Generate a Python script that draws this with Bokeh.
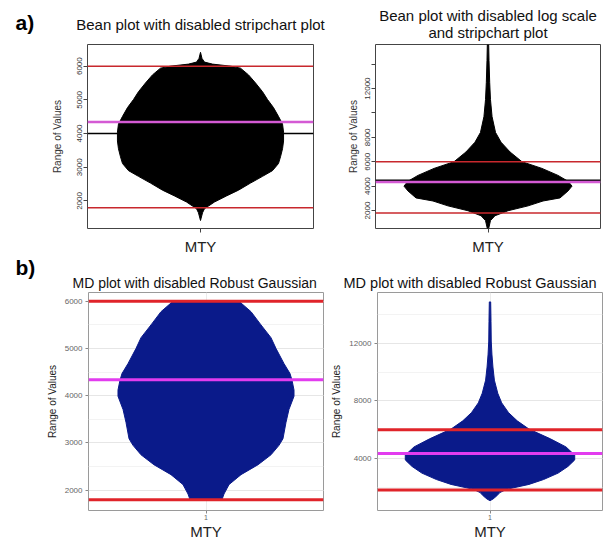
import math
from bokeh.plotting import figure
from bokeh.layouts import column, row
from bokeh.models import Range1d, FixedTicker, SingleIntervalTicker, Span, Title
from bokeh.embed import file_html
from bokeh.resources import INLINE

FONT = "Liberation Sans"

# ---------------- data ----------------
category = "MTY"
upper_limit = 6000
lower_limit = 1800
robust_mean = 4340

# a) left: bean plot (no stripchart)
a1_levels = [6410, 6230, 6120, 6060, 6000, 5940, 5740, 5500, 5240, 5010, 4770, 4510, 4280,
             4040, 3780, 3550, 3310, 3110, 2900, 2730, 2530, 2320, 2150, 1970, 1850, 1770,
             1650, 1420]
a1_halfwidth = [0.0, 0.013, 0.035, 0.106, 0.265, 0.354, 0.425, 0.487, 0.549, 0.593, 0.646,
                0.690, 0.726, 0.735, 0.735, 0.726, 0.708, 0.690, 0.637, 0.549, 0.442, 0.336,
                0.230, 0.124, 0.071, 0.035, 0.018, 0.0]
a1_beanline = 4000
a1_yticks = [2000, 3000, 4000, 5000, 6000]

# a) right: bean plot (no log scale, no stripchart)
a2_levels = [15600, 14300, 12500, 11100, 9700, 8400, 7600, 6800, 6000, 5450, 4880, 4400,
             4000, 3600, 3030, 2780, 2380, 1980, 1570, 1170, 520]
a2_halfwidth = [0.006, 0.009, 0.015, 0.022, 0.036, 0.067, 0.116, 0.196, 0.302, 0.480, 0.622,
                0.711, 0.747, 0.711, 0.640, 0.489, 0.356, 0.178, 0.062, 0.022, 0.006]
a2_beanline = 4480
a2_yticks = [2000, 4000, 6000, 8000, 10000, 12000, 14000]
a2_ylabels = ["2000", "4000", "6000", "8000", "", "12000", ""]

# b) left: MD plot
b1_levels = [6000, 5780, 5500, 5230, 5000, 4680, 4470, 4330, 4120, 3990, 3710, 3440, 3090,
             2950, 2750, 2540, 2330, 2120, 1920, 1800]
b1_halfwidth = [0.281, 0.383, 0.468, 0.553, 0.596, 0.664, 0.715, 0.732, 0.749, 0.749, 0.706,
                0.681, 0.655, 0.621, 0.553, 0.443, 0.298, 0.196, 0.153, 0.136]

# b) right: MD plot
b2_levels = [14880, 13520, 12160, 11250, 10350, 9440, 8530, 7860, 7180, 6610, 6040, 5360,
             4800, 4230, 3890, 3440, 2980, 2530, 2190, 1850, 1620, 1400, 1170, 1060]
b2_halfwidth = [0.006, 0.009, 0.011, 0.017, 0.026, 0.039, 0.069, 0.104, 0.165, 0.242, 0.346,
                0.537, 0.675, 0.753, 0.753, 0.693, 0.606, 0.476, 0.346, 0.147, 0.087, 0.061,
                0.026, 0.0]

titles = {
    "a1": ["Bean plot with disabled stripchart plot"],
    "a2": ["Bean plot with disabled log scale", "and stripchart plot"],
    "b1": ["MD plot with disabled Robust Gaussian"],
    "b2": ["MD plot with disabled Robust Gaussian"],
}
panel_tags = ["a)", "b)"]


def bean_xy(levels, halfwidth, center=1.0):
    xs = [center - w for w in halfwidth] + [center + w for w in reversed(halfwidth)]
    ys = list(levels) + list(reversed(levels))
    return xs, ys


def base_fig(w, h, left, right, top, bottom, yr):
    p = figure(width=w, height=h, x_range=Range1d(0, 2), y_range=Range1d(*yr),
               output_backend="svg", toolbar_location=None, title=None,
               min_border_left=left, min_border_right=right,
               min_border_top=top, min_border_bottom=bottom)
    p.background_fill_color = "white"
    p.border_fill_color = "white"
    return p


def style_base_r(p, label_standoff):
    p.xgrid.grid_line_color = None
    p.ygrid.grid_line_color = None
    p.outline_line_color = "#444444"
    p.outline_line_width = 1
    for ax in (p.xaxis[0], p.yaxis[0]):
        ax.axis_line_color = None
        ax.major_tick_in = 0
        ax.major_tick_out = 4
        ax.major_tick_line_color = "#444444"
        ax.minor_tick_line_color = None
    ya = p.yaxis[0]
    ya.major_label_orientation = "parallel"
    ya.major_label_text_font = FONT
    ya.major_label_text_font_size = "8px"
    ya.major_label_text_color = "#333333"
    ya.major_label_standoff = 1
    ya.axis_label = "Range of Values"
    ya.axis_label_text_font = FONT
    ya.axis_label_text_font_size = "10px"
    ya.axis_label_text_font_style = "normal"
    ya.axis_label_text_color = "#333333"
    ya.axis_label_standoff = label_standoff
    xa = p.xaxis[0]
    xa.ticker = FixedTicker(ticks=[1])
    xa.major_label_overrides = {1: category}
    xa.major_label_text_font = FONT
    xa.major_label_text_font_size = "15px"
    xa.major_label_text_color = "#222222"
    xa.major_label_standoff = 5


def style_gg(p):
    p.outline_line_color = "#9a9a9a"
    p.outline_line_width = 1
    p.xgrid.grid_line_color = "#ebebeb"
    p.ygrid.grid_line_color = "#e6e6e6"
    p.ygrid.minor_grid_line_color = "#f3f3f3"
    for ax in (p.xaxis[0], p.yaxis[0]):
        ax.axis_line_color = None
        ax.major_tick_in = 0
        ax.major_tick_out = 3
        ax.major_tick_line_color = "#888888"
        ax.minor_tick_line_color = None
    ya = p.yaxis[0]
    ya.major_label_text_font = FONT
    ya.major_label_text_font_size = "8px"
    ya.major_label_text_color = "#666666"
    ya.major_label_standoff = 2
    ya.axis_label = "Range of Values"
    ya.axis_label_text_font = FONT
    ya.axis_label_text_font_size = "10px"
    ya.axis_label_text_font_style = "normal"
    ya.axis_label_text_color = "#222222"
    ya.axis_label_standoff = 4
    xa = p.xaxis[0]
    xa.ticker = FixedTicker(ticks=[1])
    xa.major_label_overrides = {1: "1"}
    xa.major_label_text_font = FONT
    xa.major_label_text_font_size = "7px"
    xa.major_label_text_color = "#666666"
    xa.major_label_standoff = 1
    xa.axis_label = category
    xa.axis_label_text_font = FONT
    xa.axis_label_text_font_size = "15px"
    xa.axis_label_text_font_style = "normal"
    xa.axis_label_text_color = "#222222"
    xa.axis_label_standoff = 0


def add_title(p, text, size, standoff, align="center", offset=0):
    p.add_layout(Title(text=text, align=align, offset=offset, text_font=FONT,
                       text_font_size=size, text_font_style="normal",
                       text_color="#111111", standoff=standoff), "above")


def add_tag(p, text, offset, standoff):
    p.add_layout(Title(text=text, align="left", offset=offset, text_font=FONT,
                       text_font_size="21px", text_font_style="bold", text_color="black",
                       standoff=standoff), "above")


def add_lines(p, red_col, mag_col, red_w, mag_w, beanline=None):
    if beanline is not None:
        p.add_layout(Span(location=beanline, dimension="width", line_color="black", line_width=1.5))
    for v in (upper_limit, lower_limit):
        p.add_layout(Span(location=v, dimension="width", line_color=red_col, line_width=red_w))
    p.add_layout(Span(location=robust_mean, dimension="width", line_color=mag_col, line_width=mag_w))


# ---------- a) left ----------
a1 = base_fig(335, 257, 87, 22, 44, 26, (1183, 6642))
style_base_r(a1, 12)
a1.yaxis[0].ticker = FixedTicker(ticks=a1_yticks)
xs, ys = bean_xy(a1_levels, a1_halfwidth)
a1.patch(xs, ys, fill_color="black", line_color="black", line_width=1)
add_lines(a1, "#c8282d", "#d45ad4", 1.5, 2.5, a1_beanline)
add_title(a1, titles["a1"][0], "15px", 24)
add_tag(a1, panel_tags[0], -72, -65)

# ---------- a) right ----------
a2 = base_fig(268, 257, 40, 3, 44, 26, (523, 15616))
style_base_r(a2, 4)
a2.yaxis[0].ticker = FixedTicker(ticks=a2_yticks)
a2.yaxis[0].major_label_overrides = dict(zip(a2_yticks, a2_ylabels))
xs, ys = bean_xy(a2_levels, a2_halfwidth)
a2.patch(xs, ys, fill_color="black", line_color="black", line_width=1)
add_lines(a2, "#c8282d", "#d45ad4", 1.5, 2.5, a2_beanline)
add_title(a2, titles["a2"][1], "15px", 7)
add_title(a2, titles["a2"][0], "15px", -10)

# ---------- b) left ----------
b1 = base_fig(328, 285, 88, 5, 35, 27, (1571, 6186))
style_gg(b1)
b1.yaxis[0].ticker = SingleIntervalTicker(interval=1000, num_minor_ticks=2)
xs, ys = bean_xy(b1_levels, b1_halfwidth)
b1.patch(xs, ys, fill_color="#0a1a8a", line_color="#0a1a8a", line_width=1)
add_lines(b1, "#e0242a", "#e23cef", 3, 3)
add_title(b1, titles["b1"][0], "14px", 3, align="left", offset=-16)
add_tag(b1, panel_tags[1], -73, -14)

# ---------- b) right ----------
b2 = base_fig(275, 285, 43, 1, 35, 27, (377, 15535))
style_gg(b2)
b2.yaxis[0].ticker = SingleIntervalTicker(interval=4000, num_minor_ticks=2)
xs, ys = bean_xy(b2_levels, b2_halfwidth)
b2.patch(xs, ys, fill_color="#0a1a8a", line_color="#0a1a8a", line_width=1)
add_lines(b2, "#e0242a", "#e23cef", 3, 3)
add_title(b2, titles["b2"][0], "14.5px", 3, align="left", offset=-34)

layout = column(row(a1, a2), row(b1, b2))
open("out.html", "w").write(file_html(layout, INLINE))
